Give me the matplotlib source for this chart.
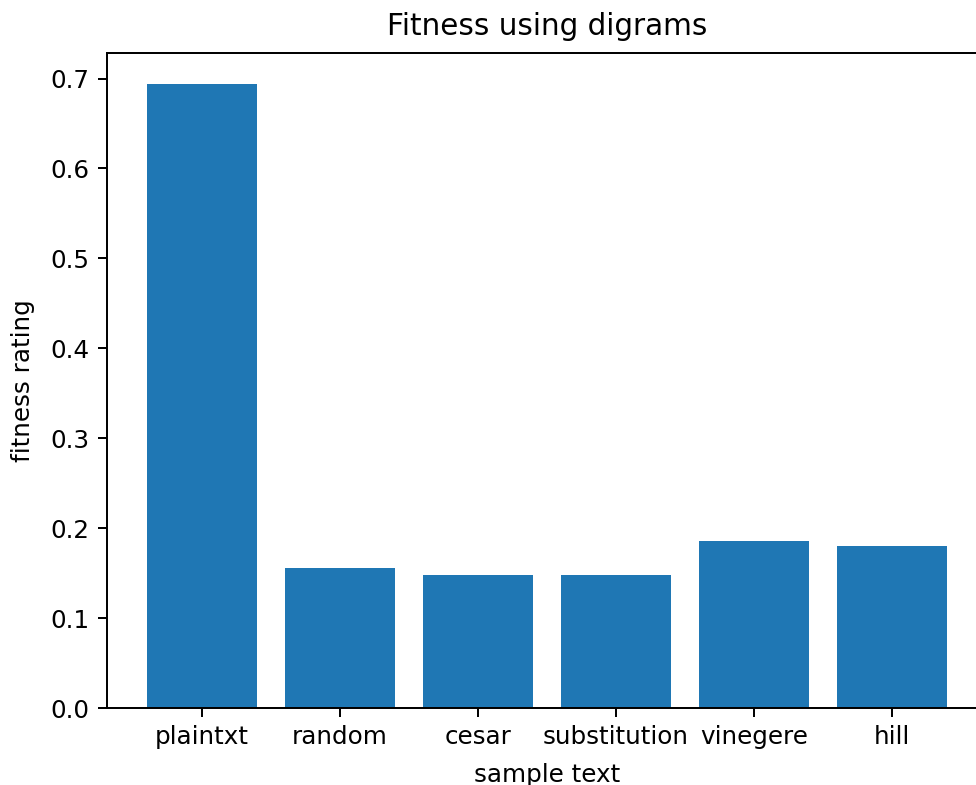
import numpy as np
import matplotlib
matplotlib.use('Agg')
import matplotlib.pyplot as plt

# fitness per sample text (digram scoring)
samples = ['plaintxt', 'random', 'cesar', 'substitution', 'vinegere', 'hill']
fitness = [0.6937, 0.1557, 0.1483, 0.1483, 0.1853, 0.1797]

scale = 1.774
plt.rcParams['font.size'] = 10 * scale

fig = plt.figure(figsize=(9.76, 7.85), dpi=100)
W, H = 976.0, 785.0
ax = fig.add_axes([107 / W, (H - 708) / H, (987 - 107) / W, (708 - 53) / H])

ax.bar(samples, fitness, color='#1f77b4')
ax.set_title('Fitness using digrams', fontsize=12 * scale, pad=7.5 * scale)
ax.set_xlabel('sample text', labelpad=4 * scale + 2.5)
ax.set_ylabel('fitness rating', labelpad=4 * scale + 4.5)
ax.tick_params(width=0.8 * scale, length=3.5 * scale, pad=3.5 * scale)
for s in ax.spines.values():
    s.set_linewidth(0.8 * scale)

fig.savefig('out.png', dpi=100)
